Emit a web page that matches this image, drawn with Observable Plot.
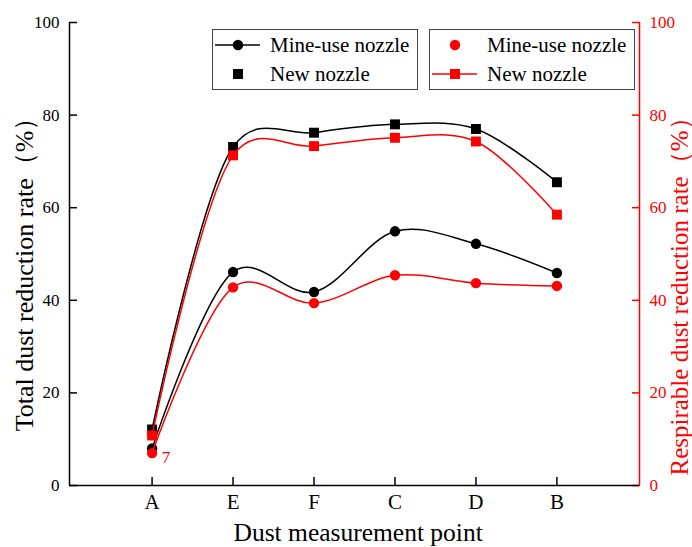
<!DOCTYPE html>
<html><head><meta charset="utf-8">
<script src="https://cdn.jsdelivr.net/npm/d3@7"></script>
<script src="https://cdn.jsdelivr.net/npm/@observablehq/plot@0.6"></script>
<style>
body{margin:0;background:#fff}
#wrap{position:relative;width:692px;height:547px;font-family:"Liberation Serif","Times New Roman",serif;overflow:hidden}
.lg{position:absolute;border:1px solid #444;background:#fff;box-sizing:border-box}
.row{position:absolute;left:0;height:24px}
.row svg{position:absolute;left:0;top:0}
.title{position:absolute;white-space:nowrap;font-family:"Liberation Serif",serif;line-height:1}
</style></head>
<body><div id="wrap"></div>
<script>
const categories = ["A", "E", "F", "C", "D", "B"];
const totalMine = [8.0, 46.1, 41.8, 54.9, 52.2, 45.9];
const totalNew  = [12.1, 73.1, 76.2, 78.0, 77.0, 65.5];
const respMine  = [7, 42.8, 39.4, 45.4, 43.7, 43.1];
const respNew   = [10.8, 71.3, 73.3, 75.1, 74.3, 58.5];
const yTicks = [0, 20, 40, 60, 80, 100];

const rows = (vals) => vals.map((v, i) => ({i, v}));
const tM = rows(totalMine), tN = rows(totalNew), rM = rows(respMine), rN = rows(respNew);
const pad = 1.02;
const curve = "catmull-rom", tension = 0.2;

const chart = Plot.plot({
  width: 692, height: 547,
  marginLeft: 69, marginRight: 53, marginTop: 22, marginBottom: 62,
  style: {fontFamily: "Liberation Serif, Times New Roman, serif", fontSize: "17px", background: "white", color: "black"},
  x: {type: "linear", domain: [-pad, categories.length - 1 + pad]},
  y: {domain: [0, 100]},
  marks: [
    Plot.axisX({ticks: d3.range(categories.length), tickFormat: i => categories[i], tickSize: -8, tickPadding: 17, fontSize: 21, label: null, strokeWidth: 1.5}),
    Plot.axisY({ticks: yTicks, tickSize: -8, tickPadding: 18, label: null, strokeWidth: 1.5}),
    Plot.axisY({anchor: "right", ticks: yTicks, tickSize: -8, tickPadding: 18, label: null, color: "red", strokeWidth: 1.5}),
    Plot.ruleY([0], {stroke: "black", strokeWidth: 1.5}),
    Plot.ruleX([-pad], {stroke: "black", strokeWidth: 1.5}),
    Plot.ruleX([categories.length - 1 + pad], {stroke: "red", strokeWidth: 1.5}),
    Plot.line(tM, {x: "i", y: "v", curve, tension, stroke: "black", strokeWidth: 1.5}),
    Plot.line(tN, {x: "i", y: "v", curve, tension, stroke: "black", strokeWidth: 1.5}),
    Plot.dot(tM, {x: "i", y: "v", r: 5.2, fill: "black", stroke: "none"}),
    Plot.dot(tN, {x: "i", y: "v", r: 5.6, symbol: "square", fill: "black", stroke: "none"}),
    Plot.line(rM, {x: "i", y: "v", curve, tension, stroke: "red", strokeWidth: 1.5}),
    Plot.line(rN, {x: "i", y: "v", curve, tension, stroke: "red", strokeWidth: 1.5}),
    Plot.dot(rM, {x: "i", y: "v", r: 5.2, fill: "red", stroke: "none"}),
    Plot.dot(rN, {x: "i", y: "v", r: 5.6, symbol: "square", fill: "red", stroke: "none"}),
    Plot.text(rM.slice(0, 1), {x: "i", y: "v", text: d => String(d.v), fill: "red", dx: 14, dy: 4, fontSize: 17, textAnchor: "middle"})
  ]
});
const wrap = document.getElementById("wrap");
wrap.appendChild(chart);

function legendBox(left, color, items) {
  const box = document.createElement("div");
  box.className = "lg";
  Object.assign(box.style, {left: left + "px", top: "29px", width: "206px", height: "61px"});
  items.forEach((it, k) => {
    const row = document.createElement("div");
    row.className = "row";
    row.style.top = (k === 0 ? 3 : 32) + "px";
    row.style.width = "204px";
    let svg = `<svg width="60" height="24">`;
    if (it.line) svg += `<line x1="2" x2="47" y1="12" y2="12" stroke="${color}" stroke-width="1.5"/>`;
    if (it.sym === "circle") svg += `<circle cx="25" cy="12" r="5.2" fill="${color}"/>`;
    else svg += `<rect x="20" y="7" width="10" height="10" fill="${color}"/>`;
    svg += `</svg>`;
    row.innerHTML = svg;
    const s = document.createElement("span");
    s.textContent = it.label;
    Object.assign(s.style, {position: "absolute", top: "0px", left: it.tx + "px", whiteSpace: "nowrap",
      fontFamily: "'Liberation Serif', 'Times New Roman', serif", fontSize: "21px", lineHeight: "24px", color: "black"});
    row.appendChild(s);
    box.appendChild(row);
  });
  wrap.appendChild(box);
}
legendBox(212, "black", [
  {label: "Mine-use nozzle", sym: "circle", line: true, tx: 57},
  {label: "New nozzle", sym: "square", line: false, tx: 57}
]);
legendBox(429, "red", [
  {label: "Mine-use nozzle", sym: "circle", line: false, tx: 57},
  {label: "New nozzle", sym: "square", line: true, tx: 57}
]);

function title(text, cx, cy, rot, color, size) {
  const d = document.createElement("div");
  d.className = "title";
  d.textContent = text;
  d.style.color = color;
  d.style.fontSize = size + "px";
  wrap.appendChild(d);
  const w = d.offsetWidth, h = d.offsetHeight;
  d.style.left = (cx - w / 2) + "px";
  d.style.top = (cy - h / 2) + "px";
  if (rot) d.style.transform = `rotate(${rot}deg)`;
}
title("Total dust reduction rate（%）", 25, 268, -90, "black", 26);
title("Respirable dust reduction rate（%）", 679, 290, -90, "red", 25);
title("Dust measurement point", 358, 533, 0, "black", 25.5);
</script></body></html>
